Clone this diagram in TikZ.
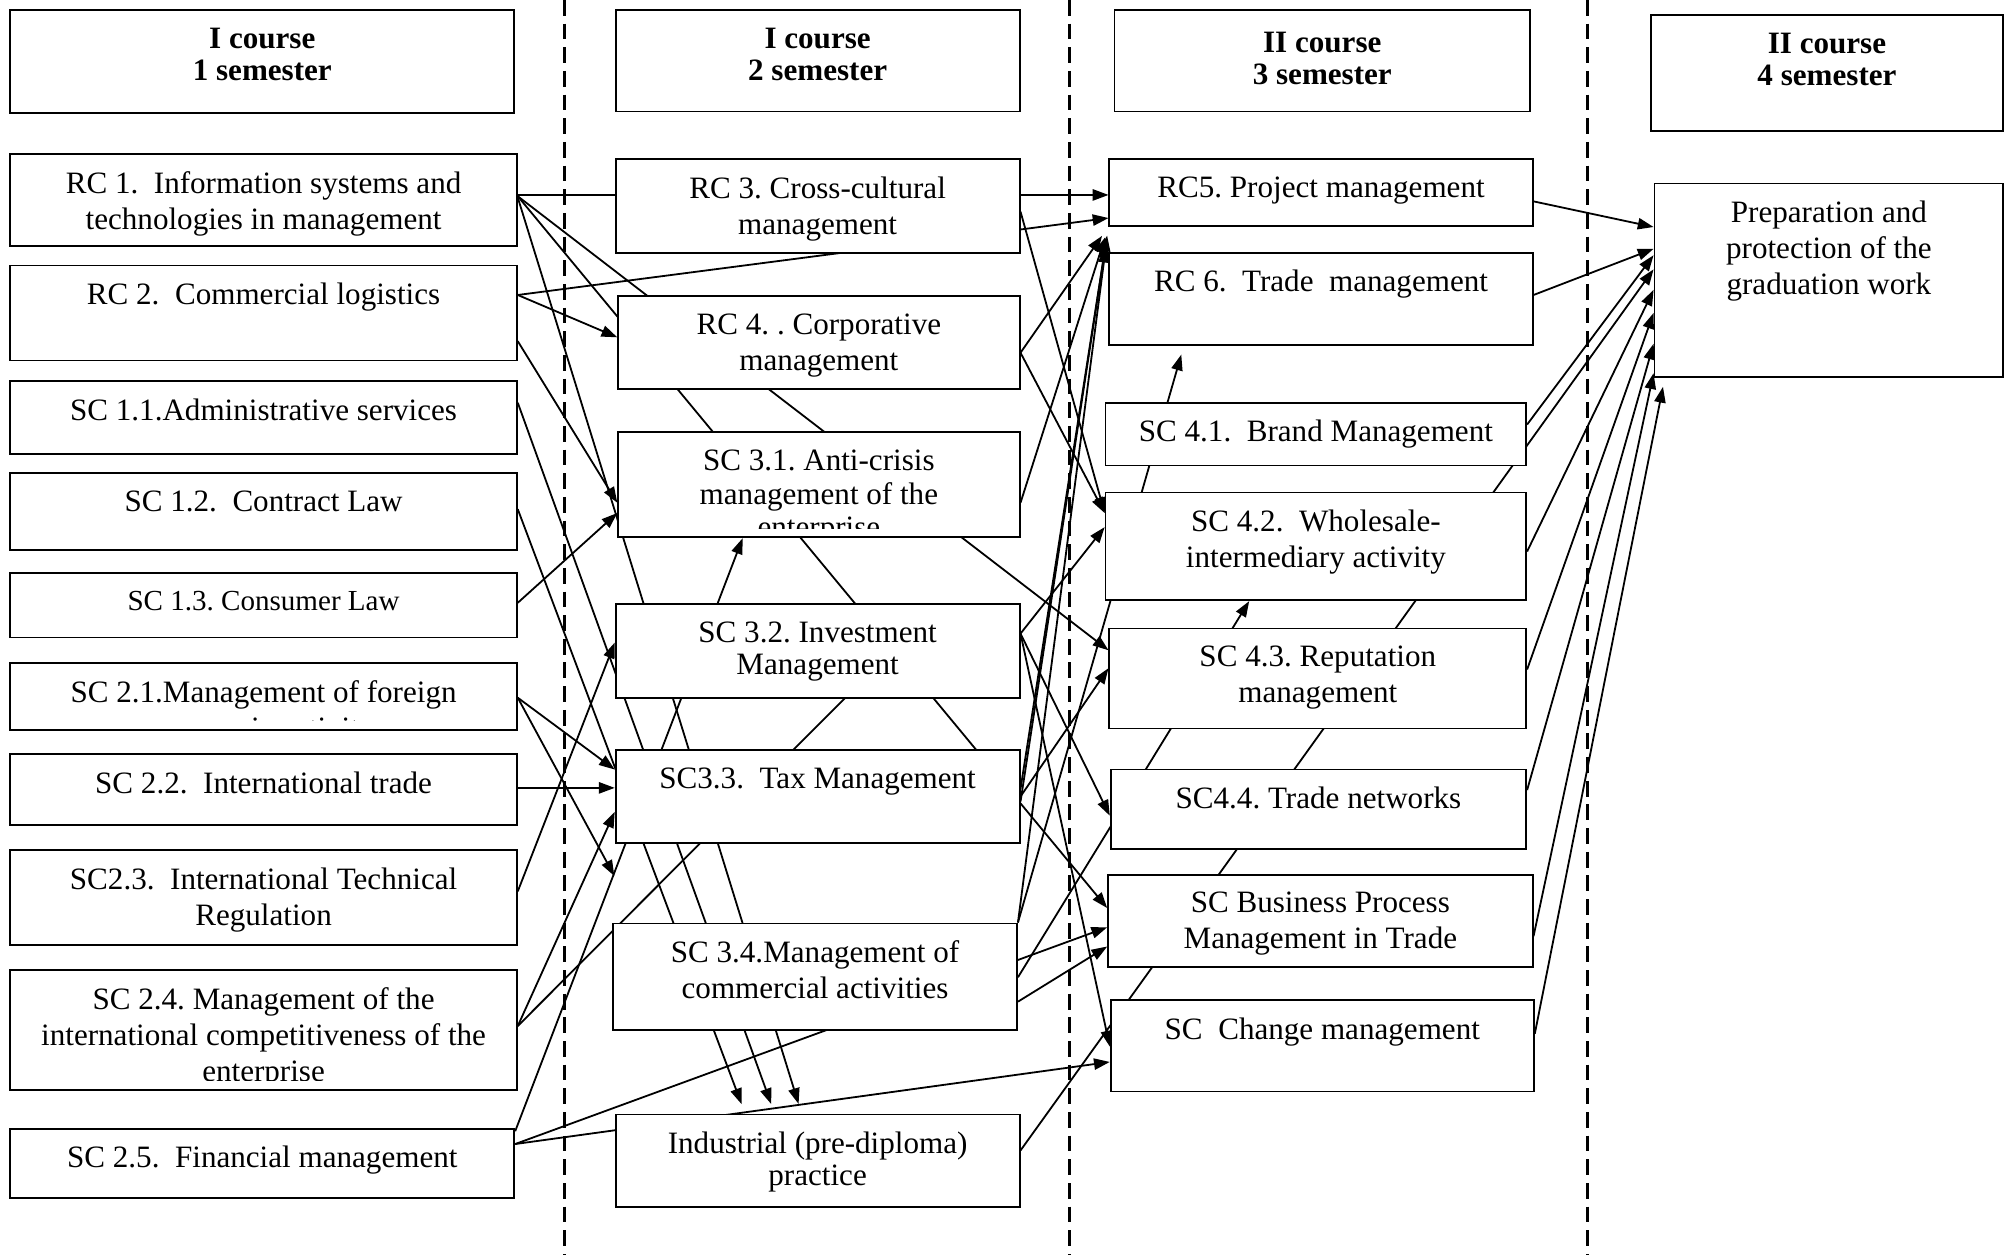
\documentclass[tikz,border=0pt]{standalone}
\usepackage{fontspec}
\setmainfont{Liberation Serif}
\usetikzlibrary{arrows.meta,fit,backgrounds}
\frenchspacing

\begin{document}
\begin{tikzpicture}[x=0.02cm, y=-0.02cm,
    box/.style={draw, line width=0.8pt, fill=white, inner sep=0pt},
    txt/.style={anchor=north, align=center, inner sep=0pt, yshift=-8pt, font=\fontsize{13.8}{16}\selectfont},
    hdr/.style={txt, font=\fontsize{13.8}{16}\selectfont\bfseries},
    arc/.style={draw, line width=0.8pt, -{Triangle[length=7pt,width=5pt]}},
    link/.style={draw, line width=0.8pt},
    border/.style={line width=1.4pt, dash pattern=on 7pt off 3.5pt}]
    \useasboundingbox (0,0) rectangle (1568,978);

    % semesters
    \node[box, fit={(8,8) (401,88)}] (h1) {};
    \node[box, fit={(480,8) (795,87)}] (h2) {};
    \node[box, fit={(869,8) (1193,87)}] (h3) {};
    \node[box, fit={(1287,12) (1562,102)}] (h4) {};

    % 1 semester
    \node[box, fit={(8,120) (403,192)}] (rc1) {};
    \node[box, fit={(8,207) (403,281)}] (rc2) {};
    \node[box, fit={(8,297) (403,354)}] (sc11) {};
    \node[box, fit={(8,369) (403,429)}] (sc12) {};
    \node[box, fit={(8,447) (403,497)}] (sc13) {};
    \node[box, fit={(8,517) (403,569)}] (sc21) {};
    \node[box, fit={(8,588) (403,643)}] (sc22) {};
    \node[box, fit={(8,663) (403,737)}] (sc23) {};
    \node[box, fit={(8,756) (403,850)}] (sc24) {};
    \node[box, fit={(8,880) (401,934)}] (sc25) {};

    % 2 semester
    \node[box, fit={(480,124) (795,197)}] (rc3) {};
    \node[box, fit={(482,231) (795,303)}] (rc4) {};
    \node[box, fit={(482,337) (795,419)}] (sc31) {};
    \node[box, fit={(480,471) (795,544)}] (sc32) {};
    \node[box, fit={(480,585) (795,657)}] (sc33) {};
    \node[box, fit={(478,720) (793,803)}] (sc34) {};
    \node[box, fit={(480,869) (795,941)}] (prac) {};

    % 3 semester
    \node[box, fit={(865,124) (1195,176)}] (rc5) {};
    \node[box, fit={(865,197) (1195,269)}] (rc6) {};
    \node[box, fit={(862,314) (1190,363)}] (sc41) {};
    \node[box, fit={(862,384) (1190,468)}] (sc42) {};
    \node[box, fit={(865,490) (1190,568)}] (sc43) {};
    \node[box, fit={(866,600) (1190,662)}] (sc44) {};
    \node[box, fit={(864,682) (1195,754)}] (scbp) {};
    \node[box, fit={(866,780) (1196,851)}] (sccm) {};

    % 4 semester
    \node[box, fit={(1290,143) (1562,294)}] (grad) {};

    % texts, cut off a little above the box edge as in the plan
    \foreach \n/\t/\s in {h1/{I course\\[-1.8pt]1 semester}/0, h2/{I course\\[-1.8pt]2 semester}/0,
                          h3/{II course\\[-1.8pt]3 semester}/2, h4/{II course\\[-1.8pt]4 semester}/0}
        \node[hdr, yshift=-\s pt] (\n-txt) at (\n.north) {\t};
    \foreach \n/\t in {rc1/{RC 1.\ \ Information systems and\\technologies in management},
                       rc2/{RC 2.\ \ Commercial logistics},
                       sc11/{SC 1.1.Administrative services},
                       sc12/{SC 1.2.\ \ Contract Law},
                       sc13/{\fontsize{12.9}{15}\selectfont SC 1.3. Consumer Law},
                       sc21/{SC 2.1.Management of foreign\\economic activity},
                       sc22/{SC 2.2.\ \ International trade},
                       sc23/{SC2.3.\ \ International Technical\\Regulation},
                       sc24/{SC 2.4. Management of the\\international competitiveness of the\\enterprise},
                       sc25/{SC 2.5.\ \ Financial management},
                       rc3/{RC 3. Cross-cultural\\management},
                       rc4/{RC 4. . Corporative\\management},
                       sc31/{SC 3.1. Anti-crisis\\[-1pt]management of the\\[-1pt]enterprise},
                       sc32/{SC 3.2. Investment\\[-1.8pt]Management},
                       sc33/{SC3.3.\ \ Tax Management},
                       sc34/{SC 3.4.Management of\\commercial activities},
                       prac/{Industrial (pre-diploma)\\[-1.8pt]practice},
                       rc5/{RC5. Project management},
                       rc6/{RC 6.\ \ Trade\ \ management},
                       sc41/{SC 4.1.\ \ Brand Management},
                       sc42/{SC 4.2.\ \ Wholesale-\\intermediary activity},
                       sc43/{SC 4.3. Reputation\\management},
                       sc44/{SC4.4. Trade networks},
                       scbp/{SC Business Process\\Management in Trade},
                       sccm/{SC\ \ Change management},
                       grad/{Preparation and\\protection of the\\graduation work}}{
        \begin{scope}
            \clip (\n.north west) rectangle ([yshift=4.5pt]\n.south east);
            \node[txt] (\n-txt) at (\n.north) {\t};
        \end{scope}
    }

    \coordinate (sc21end) at (479,683);
    \coordinate (sc24end) at (700,503);

    \begin{pgfonlayer}{background}
    \foreach \x in {440,834,1238}
        \draw[border] (\x,0) -- (\x,978);

    % from 1 semester
    \draw[arc] (rc1.east |- 0,152) -- (rc5.west |- 0,152);
    \draw[arc] (rc1.east |- 0,153) -- (sc43.west |- 0,507);
    \draw[arc] (rc1.east |- 0,153) -- (scbp.west |- 0,708);
    \draw[arc, shorten >=4.5pt] (rc1.east |- 0,154) -- (prac.north -| 625,0);
    \draw[arc] (rc2.east |- 0,230) -- (rc4.west |- 0,263);
    \draw[arc] (rc2.east |- 0,230) -- (rc5.west |- 0,170);
    \draw[arc] (rc2.east |- 0,266) -- (sc31.west |- 0,392);
    \draw[arc, shorten >=4.5pt] (sc11.east |- 0,314) -- (prac.north -| 604,0);
    \draw[arc, shorten >=4.5pt] (sc12.east |- 0,397) -- (prac.north -| 581,0);
    \draw[arc] (sc13.east |- 0,470) -- (sc31.west |- 0,400);
    \draw[arc] (sc21.east |- 0,544) -- (sc33.west |- 0,600);
    \draw[arc] (sc21.east |- 0,544) -- (sc21end);
    \draw[arc] (sc22.east |- 0,614.3) -- (sc33.west |- 0,614.3);
    \draw[arc] (sc23.east |- 0,695) -- (sc32.west |- 0,501);
    \draw[arc] (sc24.east |- 0,800) -- (sc33.west |- 0,633);
    \draw[link] (sc24.east |- 0,800) -- (sc24end);
    \draw[arc] (sc25.east |- 0,882) -- (sc31.south -| 579,0);
    \draw[arc] (sc25.east |- 0,892) -- (scbp.west |- 0,723);
    \draw[arc] (sc25.east |- 0,892) -- (sccm.west |- 0,828);

    % from 2 semester
    \draw[arc] (rc3.east |- 0,165) -- (sc42.west |- 0,400);
    \draw[arc, shorten >=5pt] (rc4.east |- 0,275) -- (rc5.south west);
    \draw[arc] (rc4.east |- 0,275) -- (sc42.west |- 0,400);
    \draw[arc, shorten >=5pt] (sc31.east |- 0,392) -- (rc5.south west);
    \draw[arc] (sc32.east |- 0,494) -- (sc42.west |- 0,411);
    \draw[arc] (sc32.east |- 0,494) -- (sc44.west |- 0,636);
    \draw[arc] (sc32.east |- 0,494) -- (sccm.west |- 0,816);
    \draw[arc, shorten >=4pt] (sc33.east |- 0,615) -- (rc5.south west);
    \draw[arc, shorten >=7pt] (sc33.east |- 0,625) -- (rc5.south west);
    \draw[arc] (sc33.east |- 0,621) -- (sc43.west |- 0,521);
    \draw[arc, shorten >=9pt] (sc34.north east) -- (rc5.south west);
    \draw[arc, shorten >=4pt] (sc34.north east) -- (rc6.south -| 923,0);
    \draw[arc] (sc34.east |- 0,762) -- (sc42.south -| 974,0);
    \draw[arc] (sc34.east |- 0,781) -- (scbp.west |- 0,738);
    \draw[arc] (prac.east |- 0,897) -- (grad.west |- 0,210);

    % to the graduation work
    \foreach \s/\a/\b in {rc5/157/177, rc6/230/194, sc41/331/199, sc42/430/226, sc43/522/244, sc44/616/268, scbp/730/291}
        \draw[arc] (\s.east |- 0,\a) -- (grad.west |- 0,\b);
    \draw[arc, shorten >=4pt] (sccm.east |- 0,806) -- (grad.south -| 1298,0);
    \end{pgfonlayer}
\end{tikzpicture}
\end{document}
